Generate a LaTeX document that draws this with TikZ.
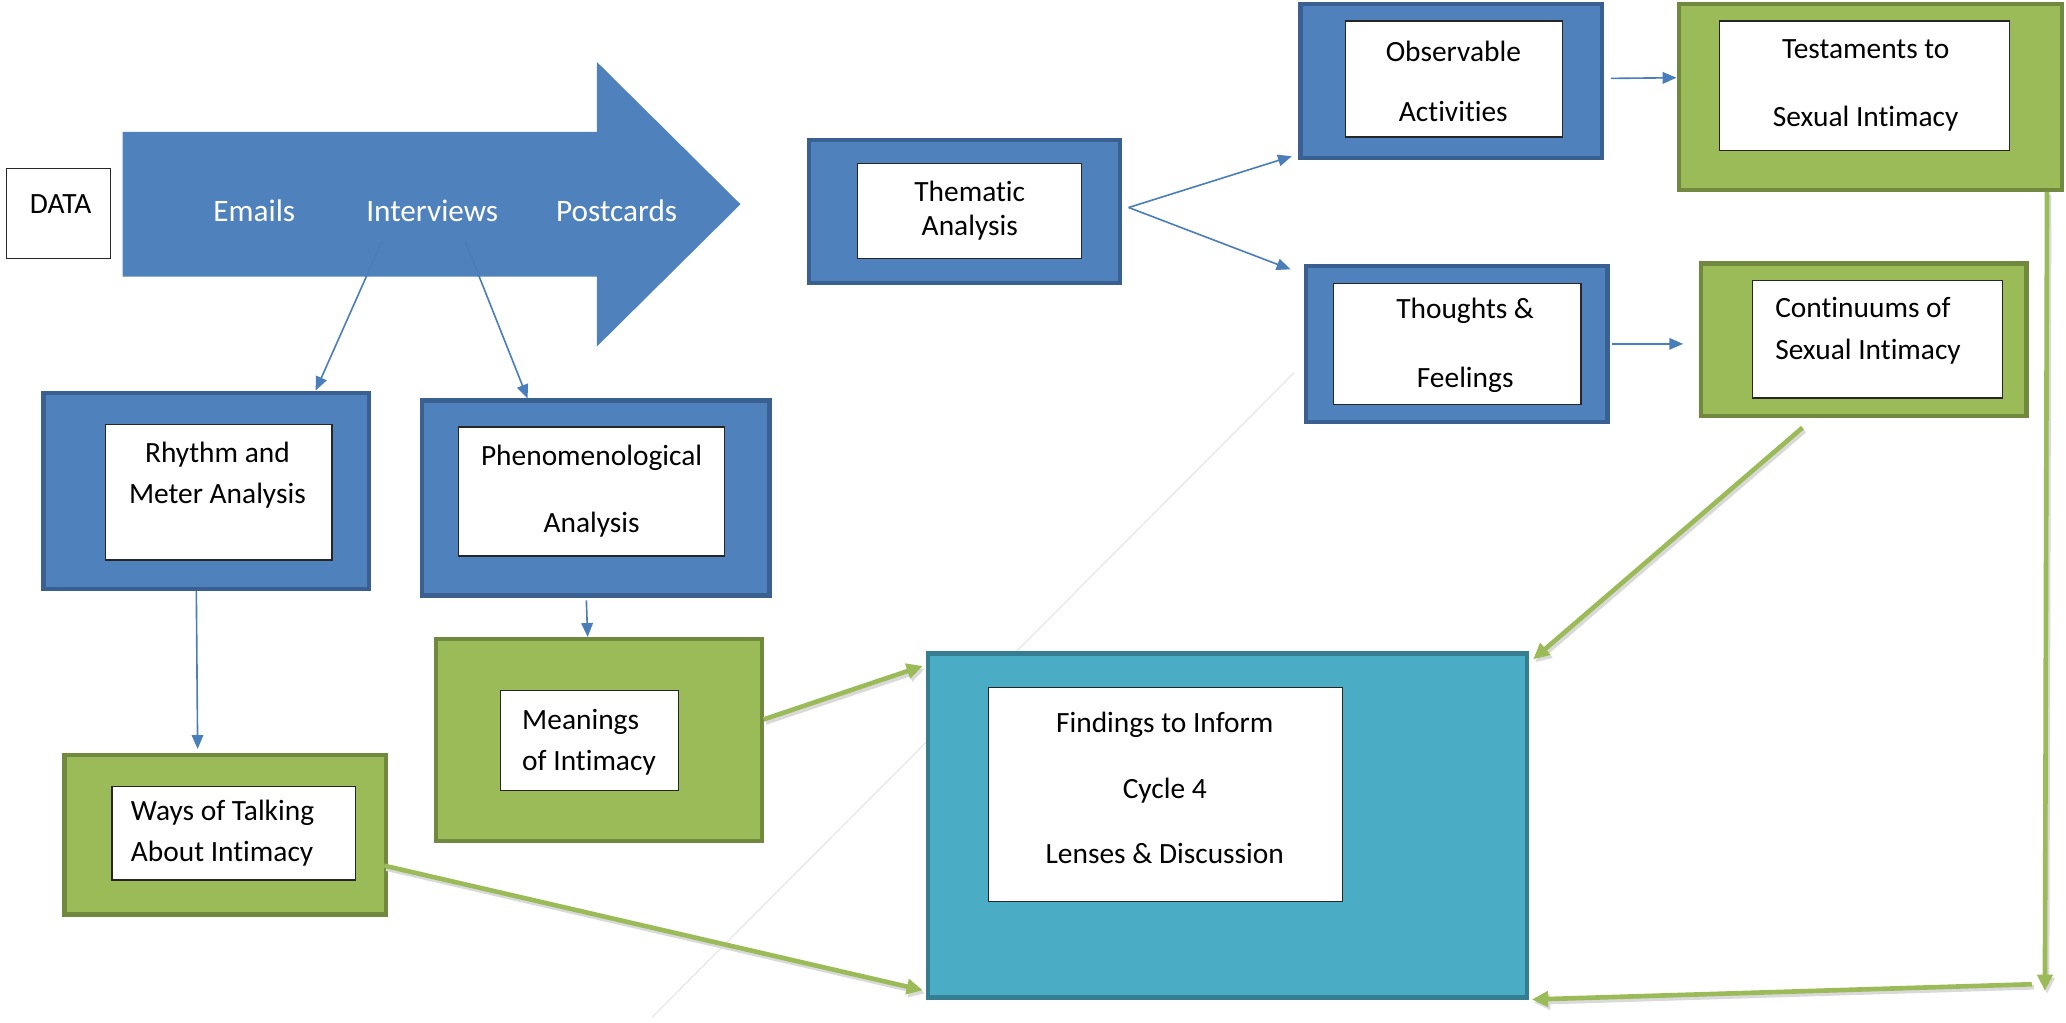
\documentclass[tikz,border=0pt]{standalone}
\usepackage{fontspec}
\setmainfont[RawFeature={-liga}]{Carlito}
\usetikzlibrary{arrows.meta,fit,calc}
\definecolor{blueF}{HTML}{4F81BD}
\definecolor{blueD}{HTML}{3A6091}
\definecolor{greenF}{HTML}{9BBB59}
\definecolor{greenD}{HTML}{71893F}
\definecolor{tealF}{HTML}{4BACC6}
\definecolor{tealD}{HTML}{357D91}
\definecolor{connBlue}{HTML}{4A7EBB}
\begin{document}
\begin{tikzpicture}[x=0.02cm,y=-0.02cm,
  outerbox/.style={inner sep=0pt, line width=1.8pt},
  bluebox/.style={outerbox, fill=blueF, draw=blueD},
  greenbox/.style={outerbox, fill=greenF, draw=greenD},
  tealbox/.style={outerbox, fill=tealF, draw=tealD},
  inbox/.style={inner sep=0pt, fill=white, draw=black!85, line width=0.6pt},
  lbl/.style={font=\fontsize{12.7}{#1}\selectfont, align=center, inner sep=0pt},
  lbll/.style={font=\fontsize{12.7}{#1}\selectfont, align=left, inner sep=0pt, anchor=west},
  arrtxt/.style={font=\fontsize{13.5}{16}\selectfont, text=white, inner sep=0pt},
  blueconn/.style={draw=connBlue, line width=0.7pt, -{Triangle[length=6pt,width=5pt]}},
  greenconn/.style={draw=greenF, line width=2pt, -{Triangle[length=7pt,width=6.5pt]},
    preaction={draw=black!15, line width=2pt, transform canvas={shift={(0.9pt,-1.3pt)}}}},
  faint/.style={draw=black!10, line width=0.5pt}]
\useasboundingbox (0,0) rectangle (1568,776);

% faint construction line in the background
\coordinate (fa) at (495,772);
\coordinate (fb) at (982,283);
\draw[faint] (fa) -- (fb);

% data source
\node[inbox, fit={(5,128) (84,196)}] (data) {};
\node[lbl=15] (dataT) at (46,155) {DATA};

% big block arrow with the three data types
\fill[blueF] (93,100) -- (453,100) -- (453,47) -- (562,155) -- (453,263) -- (453,210) -- (93,210) -- cycle;
\node[arrtxt] (emails) at (193,160) {Emails};
\node[arrtxt] (interviews) at (328,160) {Interviews};
\node[arrtxt] (postcards) at (468,160) {Postcards};
\coordinate (ivA) at (290,183);
\coordinate (ivB) at (353,183);

% thematic branch
\node[bluebox, fit={(614,106) (850,215)}] (them) {};
\node[inbox, fit={(651,124) (821,196)}] (themIn) {};
\node[lbl=14.7] (themT) at (736,160) {Thematic\\Analysis};

\node[bluebox, fit={(987,3) (1216,120)}] (obs) {};
\node[inbox, fit={(1021,16) (1186,104)}] (obsIn) {};
\node[lbl=26] (obsT) at (1103,62) {Observable\\Activities};

\node[greenbox, fit={(1274,3) (1565,144)}] (test) {};
\node[inbox, fit={(1305,16) (1525,114)}] (testIn) {};
\node[lbl=29.5] (testT) at (1416,65) {Testaments to\\Sexual Intimacy};

\node[bluebox, fit={(991,202) (1220,320)}] (thou) {};
\node[inbox, fit={(1012,215) (1200,307)}] (thouIn) {};
\node[lbl=29.5] (thouT) at (1112,262) {Thoughts \&\\Feelings};

\node[greenbox, fit={(1291,200) (1538,316)}] (cont) {};
\node[inbox, fit={(1330,213) (1520,302)}] (contIn) {};
\node[lbll=18] (contT) at (1347,251) {Continuums of\\Sexual Intimacy};

% interview analyses
\node[bluebox, fit={(33,298) (280,447)}] (rhy) {};
\node[inbox, fit={(80,322) (252,425)}] (rhyIn) {};
\node[lbl=17.6] (rhyT) at (165,360.5) {Rhythm and\\Meter Analysis};

\node[bluebox, fit={(320,304) (584,452)}] (phen) {};
\node[inbox, fit={(348,324) (550,422)}] (phenIn) {};
\node[lbl=29] (phenT) at (449,372.5) {Phenomenological\\Analysis};

\node[greenbox, fit={(331,485) (578,638)}] (mean) {};
\node[inbox, fit={(380,524) (515,600)}] (meanIn) {};
\node[lbll=17.6] (meanT) at (396,563.5) {Meanings\\of Intimacy};

\node[greenbox, fit={(49,573) (293,694)}] (ways) {};
\node[inbox, fit={(85,597) (270,668)}] (waysIn) {};
\node[lbll=17.6] (waysT) at (99,632.5) {Ways of Talking\\About Intimacy};

% findings
\node[tealbox, fit={(704,496) (1159,757)}] (find) {};
\node[inbox, fit={(750,522) (1019,684)}] (findIn) {};
\node[lbl=28.4] (findT) at (884,598) {Findings to Inform\\Cycle 4\\Lenses \& Discussion};

% thin blue connectors
\draw[blueconn] (ivA) -- ($(rhy.north east)+(-42,0)$);
\draw[blueconn] (ivB) -- ($(phen.north west)+(82,0)$);
\draw[blueconn] ($(them.east)+(5,-3)$) -- ($(obs.south west)+(-5,-3)$);
\draw[blueconn] ($(them.east)+(5,-3)$) -- ($(thou.north west)+(-10,4)$);
\draw[blueconn] ($(obs.east)+(5,-2)$) -- ($(test.west)+(0,-14.5)$);
\draw[blueconn] ($(thou.east)+(2,0)$) -- ($(cont.west)+(-12,3)$);
\draw[blueconn] ($(rhy.south)+(-7.5,0)$) -- ($(ways.north)+(-21,-3)$);
\draw[blueconn] ($(phen.south)+(-7,2)$) -- ($(mean.north)+(-8.5,0)$);

% thick green connectors into the findings
\coordinate (corner) at (1552,752);
\coordinate (back) at (1542,747);
\draw[greenconn] ($(mean.east)+(0,-15.5)$) -- ($(find.north west)+(-2,11)$);
\draw[greenconn] ($(ways.east)+(-3,23.5)$) -- ($(find.south west)+(-2,-7)$);
\draw[greenconn] ($(cont.south)+(-46.5,7)$) -- ($(find.north east)+(3,6)$);
\draw[greenconn] ($(test.south east)+(-13,0)$) -- (corner);
\draw[greenconn] (back) -- ($(find.south east)+(2,0)$);
\end{tikzpicture}
\end{document}
